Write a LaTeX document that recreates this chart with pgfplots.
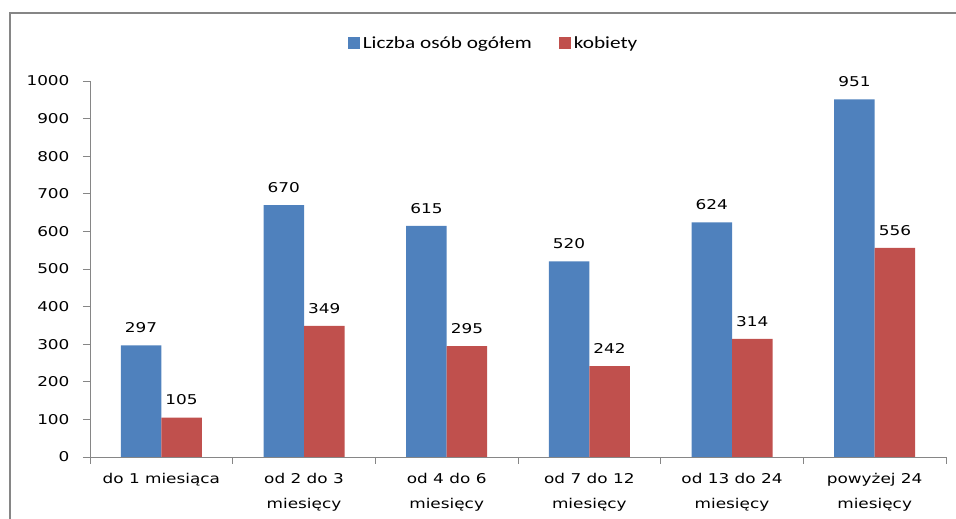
\documentclass[border=0pt]{standalone}
\usepackage{pgfplots}
\pgfplotsset{compat=1.18}
\usepackage{fontspec}
\setmainfont{DejaVu Sans}[FakeStretch=1.25]
\newfontfamily\legfont{Carlito}[FakeStretch=1.25]
\definecolor{cblue}{HTML}{4F81BD}
\definecolor{cred}{HTML}{C0504D}
\definecolor{axgray}{HTML}{868686}
\begin{document}
\begin{tikzpicture}[x=1pt,y=1pt]
\path[use as bounding box] (0,0) rectangle (956,519);
\draw[axgray, line width=1.5pt] (10,-10) -- (10,506) -- (970,506);
\begin{axis}[
  at={(90pt,62pt)}, anchor=south west,
  scale only axis, width=856pt, height=376pt,
  ybar=0pt, bar width=40.5pt,
  xmin=-0.5, xmax=5.5, ymin=0, ymax=1000,
  enlargelimits=false,
  axis x line*=bottom, axis y line*=left,
  axis line style={axgray, line width=0.8pt, -},
  xtick={0,...,5},
  xticklabels={do 1 miesiąca, od 2 do 3\\miesięcy, od 4 do 6\\miesięcy, od 7 do 12\\miesięcy, od 13 do 24\\miesięcy, powyżej 24\\miesięcy},
  minor xtick={-0.5,0.5,...,5.5},
  major x tick style={draw=none},
  minor x tick style={axgray, line width=0.8pt},
  major y tick style={axgray, line width=0.8pt},
  tick align=outside,
  major tick length=7pt, minor tick length=7pt,
  ytick={0,100,...,1000},
  /pgf/number format/set thousands separator={},
  tick label style={font=\fontsize{13.5}{25}\selectfont, text=black},
  xticklabel style={align=center, yshift=-6pt},
  yticklabel style={xshift=-10pt},
  /pgf/number format/assume math mode=true,
  legend style={at={(0.472,1.101)}, anchor=center, draw=none, fill=none,
    legend columns=2, font=\legfont\fontsize{17}{20}\selectfont,
    /tikz/every even column/.append style={column sep=25pt},
    nodes={inner sep=2.5pt}},
  nodes near coords,
  every node near coord/.append style={font=\fontsize{13.5}{16}\selectfont, text=black, yshift=9pt},
]
\addplot[fill=cblue, draw=none, legend image code/.code={\fill[cblue] (0pt,-6pt) rectangle (12pt,6pt);}] coordinates {(0,297) (1,670) (2,615) (3,520) (4,624) (5,951)};
\addplot[fill=cred, draw=none, legend image code/.code={\fill[cred] (0pt,-6pt) rectangle (12pt,6pt);}] coordinates {(0,105) (1,349) (2,295) (3,242) (4,314) (5,556)};
\legend{Liczba osób ogółem, kobiety}
\end{axis}
\end{tikzpicture}
\end{document}
